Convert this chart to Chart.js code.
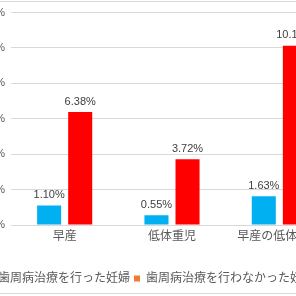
<!DOCTYPE html>
<html>
<head>
<meta charset="utf-8">
<script src="https://cdn.jsdelivr.net/npm/chart.js@4.4.1/dist/chart.umd.min.js"></script>
<style>
  html, body { margin: 0; padding: 0; background: #fff; }
  #wrap { position: relative; width: 296px; height: 296px; overflow: hidden; background: #fff; }
  #c { position: absolute; left: -40px; top: 0; }
  .rule { position: absolute; left: 0; width: 296px; height: 1px; background: #D9D9D9; }
</style>
</head>
<body>
<div id="wrap">
  <div class="rule" style="top:1px"></div>
  <canvas id="c" width="373" height="296"></canvas>
  <div class="rule" style="top:293px"></div>
</div>
<script>
const categories = ['早産', '低体重児', '早産の低体重児'];
const seriesNames = ['歯周病治療を行った妊婦', '歯周病治療を行わなかった妊婦'];
const treated = [1.10, 0.55, 1.63];
const untreated = [6.38, 3.72, 10.13];
const barColors = ['#00B0F0', '#FF0000'];
const legendColors = ['#00B0F0', '#ED7D31'];
const yTicks = [0, 2, 4, 6, 8, 10, 12];

Chart.defaults.font.family = "'Liberation Sans', 'Noto Sans CJK JP', sans-serif";
Chart.defaults.color = '#595959';

const valueLabels = {
  id: 'valueLabels',
  afterDatasetsDraw(chart) {
    const ctx = chart.ctx;
    ctx.save();
    ctx.font = "11px 'Liberation Sans', 'Noto Sans CJK JP', sans-serif";
    ctx.fillStyle = '#404040';
    ctx.textAlign = 'center';
    ctx.textBaseline = 'alphabetic';
    chart.data.datasets.forEach((ds, di) => {
      chart.getDatasetMeta(di).data.forEach((bar, i) => {
        ctx.fillText(ds.data[i].toFixed(2) + '%', bar.x, bar.y - 7.5);
      });
    });
    ctx.restore();
  }
};

new Chart(document.getElementById('c'), {
  type: 'bar',
  data: {
    labels: categories,
    datasets: [
      { label: seriesNames[0], data: treated, backgroundColor: barColors[0] },
      { label: seriesNames[1], data: untreated, backgroundColor: barColors[1] }
    ]
  },
  options: {
    responsive: false,
    animation: false,
    devicePixelRatio: 1,
    categoryPercentage: 0.579,
    barPercentage: 0.774,
    layout: { padding: { left: 7, right: 0, top: 5, bottom: 1.5 } },
    scales: {
      x: {
        grid: { display: false },
        border: { display: false },
        ticks: { font: { size: 12 }, color: '#595959', padding: -4, maxRotation: 0, autoSkip: false },
        afterFit(s) { s.height = 43.5; }
      },
      y: {
        min: 0, max: 12,
        afterBuildTicks(s) { s.ticks = yTicks.map(v => ({ value: v })); },
        ticks: { font: { size: 11 }, color: '#595959', padding: 6, callback: v => v + '%' },
        grid: { color: '#D9D9D9', drawTicks: false },
        border: { display: false },
        afterFit(s) { s.width = 44; }
      }
    },
    plugins: {
      tooltip: { enabled: false },
      legend: {
        position: 'bottom',
        labels: {
          boxWidth: 6, boxHeight: 6, padding: 4,
          font: { size: 12 }, color: '#595959',
          generateLabels(chart) {
            const items = Chart.defaults.plugins.legend.labels.generateLabels(chart);
            items.forEach((it, i) => { it.fillStyle = legendColors[i]; it.strokeStyle = legendColors[i]; it.lineWidth = 0; });
            return items;
          }
        }
      }
    }
  },
  plugins: [valueLabels]
});
</script>
</body>
</html>
